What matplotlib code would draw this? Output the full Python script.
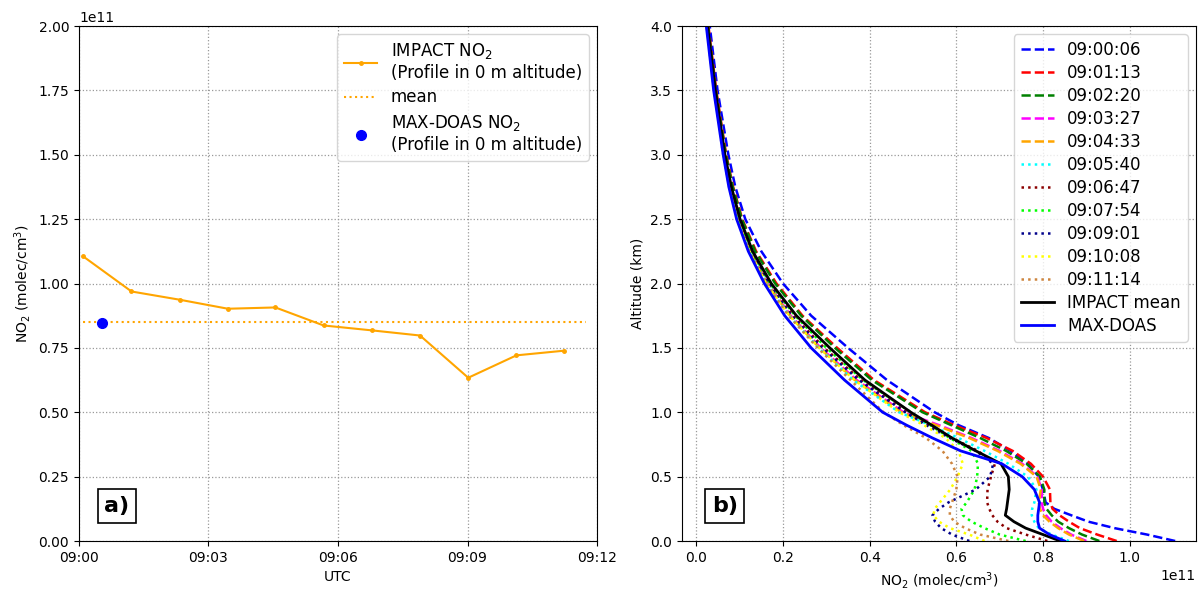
import datetime as dt
import numpy as np
import matplotlib
matplotlib.use('Agg')
import matplotlib.pyplot as plt
import matplotlib.dates as mdates

# --- panel a: surface NO2 time series (values in 1e11 molec/cm3)
impact_times = ["09:00:06", "09:01:13", "09:02:20", "09:03:27", "09:04:33", "09:05:40",
                "09:06:47", "09:07:54", "09:09:01", "09:10:08", "09:11:14"]
impact_no2 = [1.105, 0.969, 0.937, 0.902, 0.907, 0.837, 0.818, 0.798, 0.634, 0.721, 0.739]
mean_span = ["09:00:06", "09:11:44"]
maxdoas_time = "09:00:32"
maxdoas_no2 = 0.846

# --- panel b: vertical profiles (values in 1e11 molec/cm3)
altitude = [0.0, 0.05, 0.1, 0.15, 0.2, 0.25, 0.3, 0.4, 0.5, 0.6, 0.7, 0.8, 0.9,
            1.0, 1.25, 1.5, 1.75, 2.0, 2.25, 2.5, 2.75, 3.0, 3.5, 4.0]

p_090006 = [1.105, 1.04, 0.965, 0.905, 0.865, 0.826, 0.806, 0.80, 0.79, 0.765, 0.725, 0.675, 0.605,
            0.55, 0.44, 0.35, 0.265, 0.20, 0.15, 0.113, 0.09, 0.074, 0.049, 0.031]
p_090113 = [0.97, 0.925, 0.885, 0.86, 0.838, 0.822, 0.817, 0.816, 0.80, 0.772, 0.73, 0.67, 0.595,
            0.528, 0.41, 0.325, 0.245, 0.185, 0.138, 0.106, 0.085, 0.069, 0.046, 0.028]
p_090220 = [0.93, 0.89, 0.86, 0.835, 0.82, 0.808, 0.803, 0.803, 0.793, 0.762, 0.715, 0.655, 0.588,
            0.522, 0.405, 0.32, 0.242, 0.182, 0.136, 0.105, 0.084, 0.068, 0.045, 0.027]
p_090327 = [0.90, 0.865, 0.84, 0.82, 0.807, 0.80, 0.797, 0.797, 0.787, 0.752, 0.70, 0.635, 0.56,
            0.478, 0.37, 0.287, 0.218, 0.165, 0.125, 0.097, 0.078, 0.064, 0.042, 0.025]
p_090433 = [0.895, 0.86, 0.835, 0.815, 0.80, 0.793, 0.79, 0.795, 0.785, 0.748, 0.695, 0.63, 0.553,
            0.473, 0.366, 0.284, 0.216, 0.163, 0.124, 0.096, 0.077, 0.063, 0.042, 0.025]
p_090540 = [0.86, 0.82, 0.79, 0.78, 0.774, 0.775, 0.78, 0.785, 0.765, 0.72, 0.665, 0.605, 0.54,
            0.468, 0.362, 0.282, 0.214, 0.161, 0.123, 0.095, 0.077, 0.063, 0.041, 0.024]
p_090647 = [0.81, 0.76, 0.716, 0.695, 0.683, 0.676, 0.671, 0.672, 0.68, 0.689, 0.65, 0.59, 0.535,
            0.485, 0.38, 0.295, 0.224, 0.168, 0.127, 0.098, 0.079, 0.064, 0.043, 0.025]
p_090754 = [0.76, 0.70, 0.665, 0.635, 0.615, 0.612, 0.624, 0.642, 0.648, 0.65, 0.635, 0.585, 0.54,
            0.495, 0.385, 0.30, 0.228, 0.17, 0.128, 0.099, 0.08, 0.065, 0.043, 0.026]
p_090901 = [0.63, 0.59, 0.565, 0.551, 0.545, 0.56, 0.582, 0.645, 0.678, 0.685, 0.645, 0.585, 0.53,
            0.482, 0.375, 0.29, 0.22, 0.166, 0.126, 0.097, 0.078, 0.064, 0.042, 0.025]
p_091008 = [0.665, 0.63, 0.585, 0.56, 0.547, 0.55, 0.562, 0.586, 0.603, 0.615, 0.605, 0.575, 0.525,
            0.468, 0.365, 0.284, 0.215, 0.162, 0.123, 0.095, 0.077, 0.063, 0.041, 0.024]
p_091114 = [0.72, 0.655, 0.62, 0.595, 0.585, 0.585, 0.59, 0.60, 0.603, 0.59, 0.568, 0.53, 0.478,
            0.432, 0.356, 0.28, 0.213, 0.16, 0.122, 0.094, 0.076, 0.062, 0.041, 0.024]
impact_mean = [0.84, 0.80, 0.76, 0.733, 0.713, 0.716, 0.718, 0.722, 0.72, 0.703, 0.645, 0.59, 0.543,
               0.495, 0.389, 0.308, 0.231, 0.173, 0.13, 0.101, 0.081, 0.066, 0.044, 0.026]
maxdoas = [0.85, 0.815, 0.792, 0.788, 0.788, 0.79, 0.792, 0.78, 0.752, 0.705, 0.61, 0.545, 0.485,
           0.43, 0.342, 0.265, 0.204, 0.157, 0.12, 0.093, 0.075, 0.062, 0.040, 0.023]

profiles = [p_090006, p_090113, p_090220, p_090327, p_090433, p_090540,
            p_090647, p_090754, p_090901, p_091008, p_091114]
prof_colors = ['blue', 'red', 'green', 'magenta', 'orange', 'cyan',
               'darkred', 'lime', 'darkblue', 'yellow', 'peru']
prof_styles = ['--'] * 5 + [':'] * 6


def to_dt(s):
    return dt.datetime.strptime("2019-01-01 " + s, "%Y-%m-%d %H:%M:%S")


scale = 1e11
fig = plt.figure(figsize=(12.02, 5.91), dpi=100)
ax1 = fig.add_axes([0.0657, 0.0846, 0.431, 0.8714])
ax2 = fig.add_axes([0.5674, 0.0846, 0.4276, 0.8714])

# panel a
t = [to_dt(s) for s in impact_times]
vals = np.array(impact_no2) * scale
ax1.plot(t, vals, '.-', color='orange', lw=1.5, ms=5,
         label='IMPACT NO$_2$\n(Profile in 0 m altitude)')
ax1.plot([to_dt(s) for s in mean_span], [vals.mean()] * 2, ':', color='orange', lw=1.5,
         label='mean')
ax1.plot([to_dt(maxdoas_time)], [maxdoas_no2 * scale], 'o', color='blue', ms=7, ls='none',
         label='MAX-DOAS NO$_2$\n(Profile in 0 m altitude)')
ax1.set_xlim(to_dt("09:00:00"), to_dt("09:12:00"))
ax1.set_ylim(0, 2e11)
ax1.set_yticks(np.arange(0, 2.01, 0.25) * scale)
ax1.xaxis.set_major_locator(mdates.MinuteLocator(byminute=range(0, 60, 3)))
ax1.xaxis.set_major_formatter(mdates.DateFormatter('%H:%M'))
ax1.set_xlabel('UTC')
ax1.set_ylabel('NO$_2$ (molec/cm$^3$)')
ax1.grid(True, linestyle=':', color='#999999', lw=0.9)
ax1.legend(loc='upper right', fontsize=12, labelspacing=0.4)
ax1.text(0.073, 0.068, 'a)', transform=ax1.transAxes, fontsize=16, fontweight='bold',
         ha='center', va='center',
         bbox=dict(boxstyle='square,pad=0.3', facecolor='white', edgecolor='black', lw=1.2))

# panel b
for prof, c, ls, lab in zip(profiles, prof_colors, prof_styles, impact_times):
    ax2.plot(np.array(prof) * scale, altitude, ls=ls, color=c, lw=1.8, label=lab)
ax2.plot(np.array(impact_mean) * scale, altitude, '-', color='black', lw=2, label='IMPACT mean')
ax2.plot(np.array(maxdoas) * scale, altitude, '-', color='blue', lw=2, label='MAX-DOAS')
ax2.set_xlim(-0.033e11, 1.153e11)
ax2.set_ylim(0, 4)
ax2.set_xticks(np.arange(0, 1.01, 0.2) * scale)
ax2.set_yticks(np.arange(0, 4.01, 0.5))
ax2.set_xlabel('NO$_2$ (molec/cm$^3$)')
ax2.set_ylabel('Altitude (km)')
ax2.grid(True, linestyle=':', color='#999999', lw=0.9)
ax2.legend(loc='upper right', fontsize=12, labelspacing=0.3)
ax2.text(0.083, 0.068, 'b)', transform=ax2.transAxes, fontsize=16, fontweight='bold',
         ha='center', va='center',
         bbox=dict(boxstyle='square,pad=0.3', facecolor='white', edgecolor='black', lw=1.2))

fig.savefig('out.png', dpi=100)
